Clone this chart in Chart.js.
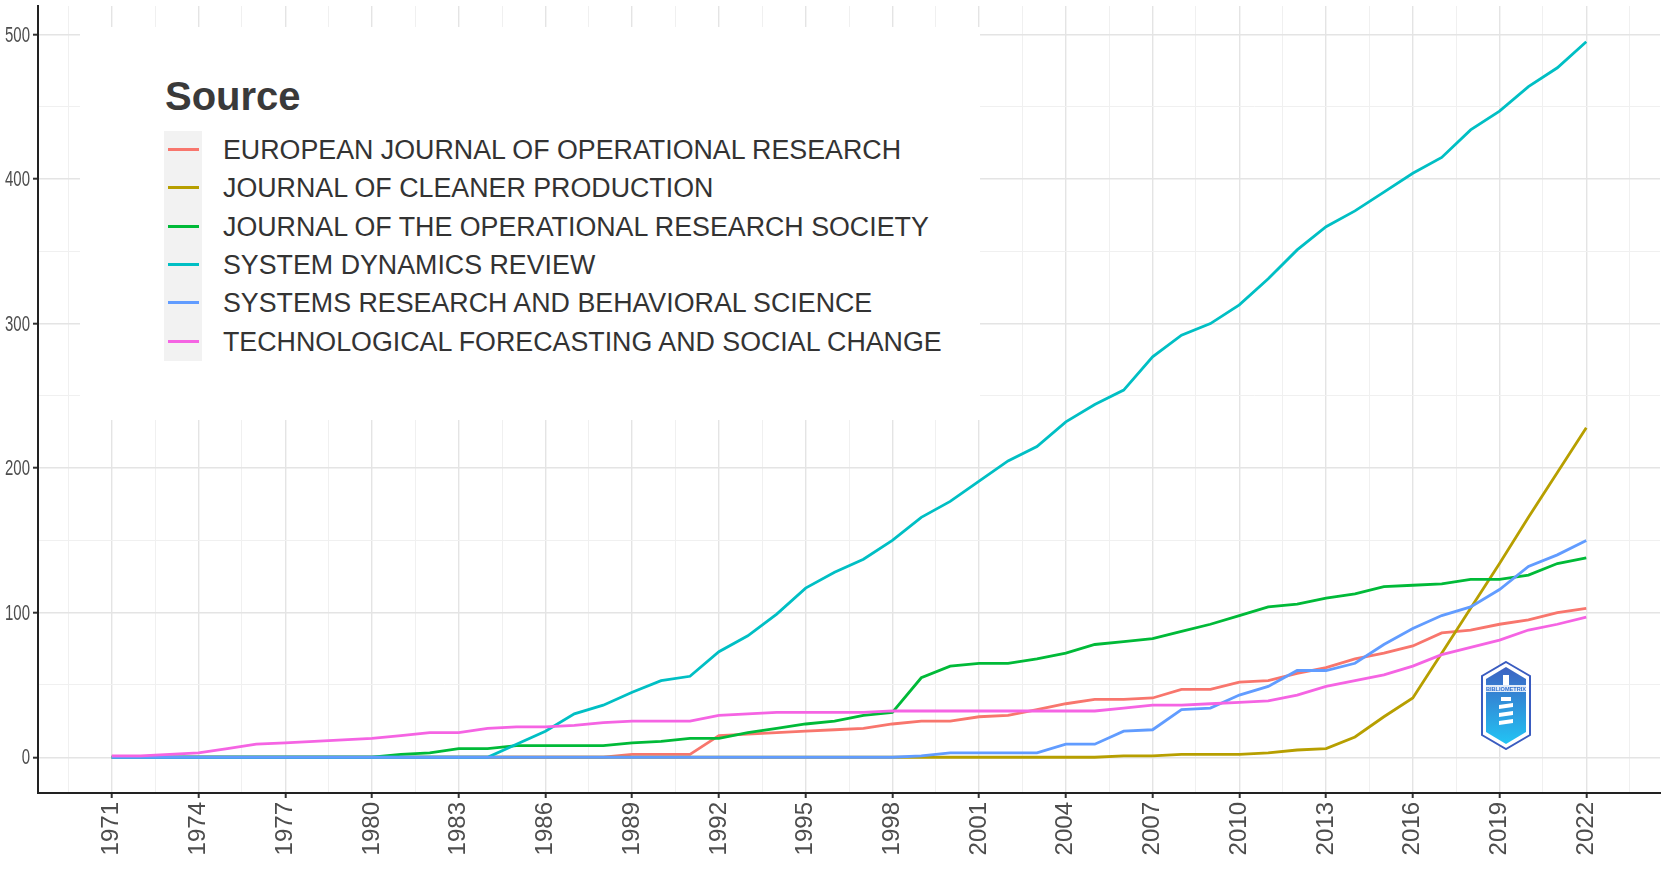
<!DOCTYPE html>
<html>
<head>
<meta charset="utf-8">
<script src="https://cdn.jsdelivr.net/npm/chart.js@4.4.1/dist/chart.umd.min.js"></script>
<style>
  html, body { margin: 0; padding: 0; background: #fff; }
  #wrap { position: relative; width: 1667px; height: 878px; }
  #legend {
    position: absolute; left: 80px; top: 27px; width: 900px; height: 393px;
    background: #fff; font-family: "Liberation Sans", Arial, sans-serif; color: #333;
  }
  #legend .title { position: absolute; left: 85px; top: 49px; font-size: 40px; font-weight: bold; color: #3a3a3a; line-height: 1; }
  #legend .keys { position: absolute; left: 84px; top: 104px; width: 38px; height: 230px; background: #f2f2f2; }
  #legend .row { position: absolute; left: 84px; height: 38px; width: 820px; }
  #legend .row .swatch { position: absolute; left: 4px; top: 17px; width: 31px; height: 3px; }
  #legend .row .txt { position: absolute; left: 59px; top: 6px; font-size: 26.8px; line-height: 1; white-space: nowrap; }
  #logo { position: absolute; left: 1481px; top: 661px; width: 50px; height: 89px; }
</style>
</head>
<body>
<div id="wrap">
  <canvas id="trend"></canvas>
  <div id="legend"></div>
  <svg id="logo" viewBox="0 0 50 89">
    <defs>
      <linearGradient id="hexfill" x1="0" y1="0" x2="0" y2="1">
        <stop offset="0" stop-color="#3d62c2"/>
        <stop offset="1" stop-color="#22c4f4"/>
      </linearGradient>
    </defs>
    <polygon points="25,1 49,15 49,74 25,88 1,74 1,15" fill="#fff" stroke="#3a5cc0" stroke-width="2"/>
    <polygon points="25,6 45,18 45,71 25,83 5,71 5,18" fill="url(#hexfill)"/>
    <rect x="4" y="24" width="42" height="7" fill="#fff" opacity="0.85"/>
    <text x="25" y="30" font-family="Liberation Sans, Arial, sans-serif" font-size="5.6" font-weight="bold" fill="#2f6fd0" text-anchor="middle">BIBLIOMETRIX</text>
    <rect x="22" y="14" width="6" height="10" fill="#fff"/>
    <path d="M20 36 h10 v4 h-10 z M18 44 l14 -2 v4 l-14 2 z M18 52 l14 -2 v4 l-14 2 z M18 60 l14 -2 v4 l-14 2 z" fill="#fff"/>
  </svg>
</div>
<script>
// years on the x axis
const years = [1971,1972,1973,1974,1975,1976,1977,1978,1979,1980,1981,1982,1983,1984,1985,1986,1987,1988,1989,1990,
  1991,1992,1993,1994,1995,1996,1997,1998,1999,2000,2001,2002,2003,2004,2005,2006,2007,2008,2009,2010,
  2011,2012,2013,2014,2015,2016,2017,2018,2019,2020,2021,2022];
const tickYears = [1971,1974,1977,1980,1983,1986,1989,1992,1995,1998,2001,2004,2007,2010,2013,2016,2019,2022];
const tickValues = [0,100,200,300,400,500];

const sources = [
  "EUROPEAN JOURNAL OF OPERATIONAL RESEARCH",
  "JOURNAL OF CLEANER PRODUCTION",
  "JOURNAL OF THE OPERATIONAL RESEARCH SOCIETY",
  "SYSTEM DYNAMICS REVIEW",
  "SYSTEMS RESEARCH AND BEHAVIORAL SCIENCE",
  "TECHNOLOGICAL FORECASTING AND SOCIAL CHANGE"
];
const colors = ["#F8766D", "#B79F00", "#00BA38", "#00BFC4", "#619CFF", "#F564E3"];

// cumulative articles per year
const ejor = [0,0,0,0,0,0,0,0,0,0,0,0,0,0,0,0,0,0,2,2,2,15,16,17,18,19,20,23,25,25,28,29,33,37,40,40,41,47,47,52,53,58,62,68,72,77,86,88,92,95,100,103];
const jcp  = [0,0,0,0,0,0,0,0,0,0,0,0,0,0,0,0,0,0,0,0,0,0,0,0,0,0,0,0,0,0,0,0,0,0,0,1,1,2,2,2,3,5,6,14,28,41,72,103,134,166,197,228];
const jors = [0,0,0,0,0,0,0,0,0,0,2,3,6,6,8,8,8,8,10,11,13,13,17,20,23,25,29,31,55,63,65,65,68,72,78,80,82,87,92,98,104,106,110,113,118,119,120,123,123,126,134,138];
const sdr  = [0,0,0,0,0,0,0,0,0,0,0,0,0,0,9,18,30,36,45,53,56,73,84,99,117,128,137,150,166,177,191,205,215,232,244,254,277,292,300,313,331,351,367,378,391,404,415,434,447,464,477,495];
const srbs = [0,0,0,0,0,0,0,0,0,0,0,0,0,0,0,0,0,0,0,0,0,0,0,0,0,0,0,0,1,3,3,3,3,9,9,18,19,33,34,43,49,60,60,65,78,89,98,104,116,132,140,150];
const tfsc = [1,1,2,3,6,9,10,11,12,13,15,17,17,20,21,21,22,24,25,25,25,29,30,31,31,31,31,32,32,32,32,32,32,32,32,34,36,36,37,38,39,43,49,53,57,63,71,76,81,88,92,97];

const series = [ejor, jcp, jors, sdr, srbs, tfsc];

// minor grid sits halfway between the breaks, like ggplot
const xGrid = [];
tickYears.forEach(y => { xGrid.push(y - 1.5, y); });
xGrid.push(2023.5);
const yGrid = [];
tickValues.forEach(v => { yGrid.push(v); if (v < 500) yGrid.push(v + 50); });

const isMajorX = v => tickYears.includes(v);
const isMajorY = v => tickValues.includes(v);

const datasets = series.map((vals, i) => ({
  label: sources[i],
  data: years.map((yr, j) => ({ x: yr, y: vals[j] })),
  borderColor: colors[i],
  backgroundColor: colors[i],
  borderWidth: 2.8,
  pointRadius: 0,
  tension: 0,
  fill: false,
  order: 5 - i
}));

// y labels in the narrow face of the original
const narrowYLabels = {
  id: "narrowYLabels",
  afterDraw(chart) {
    const ctx = chart.ctx, y = chart.scales.y;
    ctx.save();
    ctx.fillStyle = "#4d4d4d";
    ctx.font = "22px 'Liberation Sans', Arial, sans-serif";
    ctx.textAlign = "right";
    ctx.textBaseline = "middle";
    tickValues.forEach(v => {
      ctx.save();
      ctx.translate(30, y.getPixelForValue(v) + 1);
      ctx.scale(0.68, 1);
      ctx.fillText(String(v), 0, 0);
      ctx.restore();
    });
    ctx.restore();
  }
};

new Chart(document.getElementById("trend"), {
  type: "line",
  data: { datasets: datasets },
  plugins: [narrowYLabels],
  options: {
    responsive: true,
    maintainAspectRatio: false,
    animation: false,
    layout: { padding: { top: 6, right: 7, left: 0, bottom: 0 } },
    plugins: { legend: { display: false }, tooltip: { enabled: false } },
    scales: {
      x: {
        type: "linear",
        min: 1968.45,
        max: 2024.55,
        afterBuildTicks: s => { s.ticks = xGrid.map(v => ({ value: v })); },
        afterFit: s => { s.height = 85; s.paddingLeft = 0; s.paddingRight = 0; },
        grid: {
          color: c => isMajorX(c.tick.value) ? "#e4e4e4" : "#f0f0f0",
          lineWidth: c => isMajorX(c.tick.value) ? 1.4 : 1,
          tickColor: c => isMajorX(c.tick.value) ? "#333" : "rgba(0,0,0,0)",
          tickLength: 5,
          tickWidth: 2
        },
        border: { color: "#222", width: 2 },
        ticks: {
          autoSkip: false,
          maxRotation: 90,
          minRotation: 90,
          padding: 4,
          color: "#4d4d4d",
          font: { family: "'Liberation Sans', Arial, sans-serif", size: 24 },
          callback: v => isMajorX(v) ? String(v) : ""
        }
      },
      y: {
        min: -24.75,
        max: 519.75,
        afterBuildTicks: s => { s.ticks = yGrid.map(v => ({ value: v })); },
        afterFit: s => { s.width = 38; s.paddingTop = 0; s.paddingBottom = 0; },
        grid: {
          color: c => isMajorY(c.tick.value) ? "#e4e4e4" : "#f0f0f0",
          lineWidth: c => isMajorY(c.tick.value) ? 1.4 : 1,
          tickColor: c => isMajorY(c.tick.value) ? "#333" : "rgba(0,0,0,0)",
          tickLength: 5,
          tickWidth: 2
        },
        border: { color: "#222", width: 2 },
        ticks: {
          autoSkip: false,
          padding: 3,
          callback: () => ""
        }
      }
    }
  }
});

// legend box drawn over the panel, as in the source figure
const legend = document.getElementById("legend");
legend.innerHTML = '<div class="title">Source</div><div class="keys"></div>' +
  sources.map((s, i) =>
    '<div class="row" style="top:' + (104 + i * 38.3) + 'px"><div class="swatch" style="background:' + colors[i] +
    '"></div><div class="txt">' + s + '</div></div>').join("");
</script>
</body>
</html>
